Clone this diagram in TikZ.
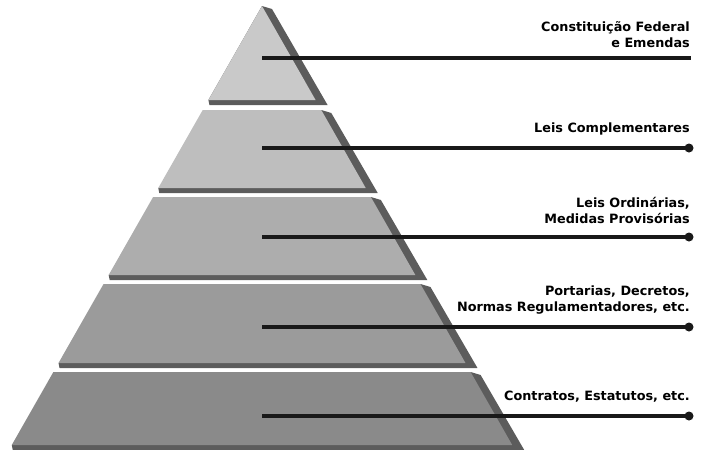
\documentclass[tikz,border=0pt]{standalone}
\usepackage{fontspec}
\setmainfont{DejaVu Sans}
\usetikzlibrary{positioning}

\definecolor{layA}{HTML}{C9C9C9}
\definecolor{layB}{HTML}{BEBEBE}
\definecolor{layC}{HTML}{ADADAD}
\definecolor{layD}{HTML}{9B9B9B}
\definecolor{layE}{HTML}{8A8A8A}
\definecolor{sidegray}{HTML}{5C5C5C}

\tikzset{
  level label/.style={anchor=south east, inner sep=0pt, align=right,
    font=\fontsize{12.8}{16}\selectfont\bfseries},
  leader/.style={line width=3.5pt, black!90},
  enddot/.style={circle, fill=black!90, inner sep=0pt, minimum size=9pt}
}

\begin{document}
\begin{tikzpicture}[x=1pt, y=-1pt]
    \useasboundingbox (0,0) rectangle (705,450);

    % Pyramid layers (top y / bottom y / colour)
    \foreach \yt/\yb/\col in {6/100/layA, 110/188/layB, 197/275/layC, 284/363/layD, 372/445/layE} {
        \pgfmathsetmacro\wt{0.57*(\yt-6)}
        \pgfmathsetmacro\wb{0.57*(\yb-6)}
        % shadow (bottom and right side)
        \fill[sidegray] (262-\wb,\yb) -- (263-\wb,\yb+5) -- (274+\wb,\yb+5)
            -- (272+\wt,\yt+3) -- (262+\wt,\yt) -- cycle;
        % front face
        \fill[\col] (262-\wt,\yt) -- (262+\wt,\yt) -- (262+\wb,\yb) -- (262-\wb,\yb) -- cycle;
    }

    % Start points of the leaders
    \coordinate (s1) at (262,58);
    \coordinate (s2) at (262,148);
    \coordinate (s3) at (262,237);
    \coordinate (s4) at (262,327);
    \coordinate (s5) at (262,416);

    % Ends of the leaders
    \coordinate (e1) at (691,58);
    \node[enddot] (d2) at (689,148) {};
    \node[enddot] (d3) at (689,237) {};
    \node[enddot] (d4) at (689,327) {};
    \node[enddot] (d5) at (689,416) {};

    % Leaders
    \draw[leader] (s1) -- (e1);
    \foreach \n in {2,3,4,5} {
        \draw[leader] (s\n) -- (d\n.center);
    }

    % Labels
    \node[level label] (t1) at (690,48) {Constituição Federal\\e Emendas};
    \node[level label] (t2) at (690,135) {Leis Complementares};
    \node[level label] (t3) at (690,224) {Leis Ordinárias,\\Medidas Provisórias};
    \node[level label] (t4) at (690,314) {Portarias, Decretos,\\Normas Regulamentadores, etc.};
    \node[level label] (t5) at (690,403) {Contratos, Estatutos, etc.};
\end{tikzpicture}
\end{document}
